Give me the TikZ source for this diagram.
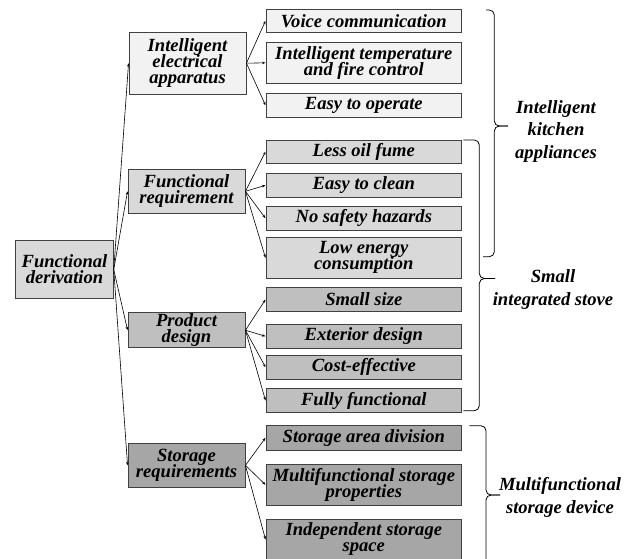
\documentclass[tikz,border=0pt]{standalone}
\usepackage{fontspec}
\setmainfont{Liberation Serif}
\usetikzlibrary{arrows.meta}

\definecolor{shadeA}{HTML}{F2F2F2}
\definecolor{shadeB}{HTML}{D9D9D9}
\definecolor{shadeC}{HTML}{BFBFBF}
\definecolor{shadeD}{HTML}{A6A6A6}

\tikzset{
  box/.style={draw=black!75, line width=0.9pt, inner sep=0pt, align=center,
    font=\fontsize{18.6}{16}\selectfont\bfseries\itshape},
  rootbox/.style={box, fill=shadeB, minimum width=97.6pt, minimum height=57.6pt},
  midbox/.style={box, minimum width=117pt},
  leafbox/.style={box, minimum width=195.7pt},
  link/.style={draw=black, line width=0.6pt, -{Stealth[length=3.5pt,width=2.6pt]}},
  bracket/.style={draw=black, line width=0.8pt, rounded corners=5pt},
  group/.style={align=center, font=\fontsize{18.6}{22.4}\selectfont\bfseries\itshape}
}

\begin{document}
% allow lines to sit closer than their glyph extents
\lineskiplimit=-20pt\relax
\lineskip=0pt\relax
\begin{tikzpicture}[x=1pt, y=-1pt]
\path[use as bounding box] (0,0) rectangle (634,558);
\clip (0,0) rectangle (634,558);

% root
\node[rootbox] (root) at (64.5,269.5) {Functional\\derivation};

% second level
\node[midbox, fill=shadeA, minimum height=61.7pt] (iea) at (187.5,63.2) {Intelligent\\electrical\\apparatus};
\node[midbox, fill=shadeB, minimum height=44pt] (fr) at (186.5,191.3) {Functional\\requirement};
\node[midbox, fill=shadeC, minimum height=35pt] (pd) at (186.5,330.2) {Product\\design};
\node[midbox, fill=shadeD, minimum height=44pt] (sr) at (186.5,465.3) {Storage\\requirements};

% leaves
\node[leafbox, fill=shadeA, minimum height=23pt] (v1) at (363.8,20.8) {Voice communication};
\node[leafbox, fill=shadeA, minimum height=41pt] (v2) at (363.8,62.8) {Intelligent temperature\\and fire control};
\node[leafbox, fill=shadeA, minimum height=24pt] (v3) at (363.8,105.3) {Easy to operate};

\node[leafbox, fill=shadeB, minimum height=23.3pt] (f1) at (363.8,151.7) {Less oil fume};
\node[leafbox, fill=shadeB, minimum height=24pt] (f2) at (363.8,185.3) {Easy to clean};
\node[leafbox, fill=shadeB, minimum height=23.3pt] (f3) at (363.8,218.3) {No safety hazards};
\node[leafbox, fill=shadeB, minimum height=41pt] (f4) at (363.8,257.8) {Low energy\\consumption};

\node[leafbox, fill=shadeC, minimum height=24.4pt] (p1) at (363.8,299.5) {Small size};
\node[leafbox, fill=shadeC, minimum height=24pt] (p2) at (363.8,336.3) {Exterior design};
\node[leafbox, fill=shadeC, minimum height=24.3pt] (p3) at (363.8,367.2) {Cost-effective};
\node[leafbox, fill=shadeC, minimum height=24.4pt] (p4) at (363.8,400.5) {Fully functional};

\node[leafbox, fill=shadeD, minimum height=24.3pt] (s1) at (363.8,437.8) {Storage area division};
\node[leafbox, fill=shadeD, minimum height=41.7pt] (s2) at (363.8,484.8) {Multifunctional storage\\properties};
\node[leafbox, fill=shadeD, minimum height=41pt] (s3) at (363.8,539.5) {Independent storage\\space};

% connectors
\foreach \t in {iea,fr,pd,sr} \draw[link] (root.east) -- (\t.west);
\foreach \t in {v1,v2,v3} \draw[link] (iea.east) -- (\t.west);
\foreach \t in {f1,f2,f3,f4} \draw[link] (fr.east) -- (\t.west);
\foreach \t in {p1,p2,p3,p4} \draw[link] (pd.east) -- (\t.west);
\foreach \t in {s1,s2,s3} \draw[link] (sr.east) -- (\t.west);

% grouping brackets
\coordinate (b1) at (508,126);
\draw[bracket] (486,10) -| (494.3,126) -- (b1);
\draw[bracket] (b1) -- (494.3,126) |- (483,256.7);
\coordinate (b2) at (495,278.5);
\draw[bracket] (463.3,140) -| (479.3,278.5) -- (b2);
\draw[bracket] (b2) -- (479.3,278.5) |- (463.3,410.7);
\coordinate (b3) at (500,495);
\draw[bracket] (469.3,425.7) -| (486,495) -- (b3);
\draw[bracket] (b3) -- (486,495) |- (469.3,564);

% group labels
\node[group] (g1) at (556,131.5) {Intelligent\\kitchen\\appliances};
\node[group] (g2) at (553,289.5) {Small\\integrated stove};
\node[group] (g3) at (560,497.5) {Multifunctional\\storage device};
\end{tikzpicture}
\end{document}
